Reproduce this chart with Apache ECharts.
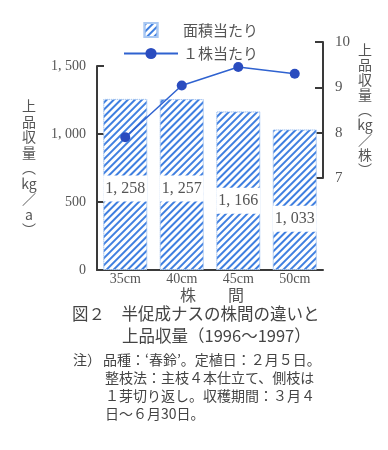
<!DOCTYPE html>
<html><head><meta charset="utf-8">
<script src="https://cdn.jsdelivr.net/npm/echarts@6/dist/echarts.min.js"></script>
<style>html,body{margin:0;padding:0;background:#fff}#c{width:388px;height:450px}</style>
</head><body><div id="c"></div>
<script>
// ---- data ----
const categories = ['35cm', '40cm', '45cm', '50cm'];
const yieldPerArea = [1258, 1257, 1166, 1033];      // kg/a (bars)
const yieldPerPlant = [7.9, 9.04, 9.45, 9.3];       // kg/株 (line)
const leftTicks = [0, 500, 1000, 1500];
const rightTicks = [7, 8, 9, 10];
const seriesNames = ['面積当たり', '１株当たり'];
const leftAxisName = ['上', '品', '収', '量', '︵', 'kg', '／', 'a', '︶'];
const rightAxisName = ['上', '品', '収', '量', '︵', 'kg', '／', '株', '︶'];
const xAxisName = '株\u3000\u3000間';
const titleLines = ['図２\u3000半促成ナスの株間の違いと', '上品収量（1996～1997）'];
const noteHead = '注）';
const noteLines = ['品種：‘春鈴’。定植日：２月５日。', '整枝法：主枝４本仕立て、側枝は', '１芽切り返し。収穫期間：３月４', '日～６月30日。'];

// ---- style ----
const CJK = '"Noto Sans CJK JP", sans-serif';
const SERIF = '"Liberation Serif", "DejaVu Serif", serif';
const GRAY = '#555';
const AXIS = '#3a3a3a';
const HATCH = '#3f7fe0';
const labelShift = [4, 4, 10, 19];

const fmt = v => v >= 1000 ? Math.floor(v / 1000) + ', ' + String(v % 1000).padStart(3, '0') : String(v);

const chart = echarts.init(document.getElementById('c'), null, {renderer: 'canvas'});
chart.setOption({
  animation: false,
  backgroundColor: '#fff',
  legend: {
    orient: 'vertical', left: 118, top: 17, itemWidth: 54, itemHeight: 14, itemGap: 8,
    textStyle: {fontFamily: CJK, fontSize: 15, color: GRAY, padding: [0, 0, 0, 0]},
    data: [
      {name: seriesNames[0], icon: 'path://M0 0H12V13H0Z'},
      {name: seriesNames[1]}
    ]
  },
  grid: [
    {left: 97, right: 65, top: 66, height: 204},
    {left: 97, right: 65, top: 42, height: 136}
  ],
  xAxis: [
    {type: 'category', gridIndex: 0, data: categories,
     axisLine: {lineStyle: {color: AXIS, width: 2}}, axisTick: {show: false},
     axisLabel: {fontFamily: SERIF, fontSize: 14, color: GRAY, margin: 2},
     name: xAxisName, nameLocation: 'middle', nameGap: 16,
     nameTextStyle: {fontFamily: CJK, fontSize: 16, color: GRAY, padding: [0, 0, 0, 4]}},
    {type: 'category', gridIndex: 1, data: categories, show: false}
  ],
  yAxis: [
    {type: 'value', gridIndex: 0, min: leftTicks[0], max: leftTicks[leftTicks.length - 1], interval: 500,
     axisLine: {show: true, lineStyle: {color: AXIS, width: 2}},
     axisTick: {show: true, inside: true, length: 7, lineStyle: {color: AXIS, width: 2}},
     splitLine: {show: false},
     axisLabel: {fontFamily: SERIF, fontSize: 14, color: GRAY, margin: 11, formatter: fmt},
     name: leftAxisName.join('\n'), nameLocation: 'middle', nameRotate: 0, nameGap: 68,
     nameTextStyle: {fontFamily: CJK, fontSize: 14, lineHeight: 15.5, color: GRAY, align: 'center', verticalAlign: 'middle'}},
    {type: 'value', gridIndex: 1, position: 'right', min: rightTicks[0], max: rightTicks[rightTicks.length - 1], interval: 1,
     axisLine: {show: true, lineStyle: {color: AXIS, width: 2}},
     axisTick: {show: true, inside: true, length: 8, lineStyle: {color: AXIS, width: 2}},
     splitLine: {show: false},
     axisLabel: {fontFamily: SERIF, fontSize: 15, color: GRAY, margin: 12},
     name: rightAxisName.join('\n'), nameLocation: 'middle', nameRotate: 0, nameGap: 42,
     nameTextStyle: {fontFamily: CJK, fontSize: 14, lineHeight: 15, color: GRAY, align: 'center', verticalAlign: 'middle'}}
  ],
  series: [
    {name: seriesNames[0], type: 'bar', xAxisIndex: 0, yAxisIndex: 0, barWidth: 44,
     itemStyle: {color: '#fff', borderColor: '#a9c8f2', borderWidth: 1, borderType: 'dotted',
       decal: {symbol: 'rect', symbolSize: 1, dashArrayX: [1, 0], dashArrayY: [1.5, 2.5], rotation: -Math.PI / 4, color: HATCH}},
     data: yieldPerArea.map((v, i) => ({value: v, label: {offset: [0, labelShift[i]]}})),
     label: {show: true, position: 'inside', formatter: p => fmt(p.value), fontFamily: SERIF, fontSize: 16, color: GRAY,
       backgroundColor: '#fff', width: 44, height: 26, lineHeight: 26, align: 'center', padding: 0}},
    {name: seriesNames[1], type: 'line', xAxisIndex: 1, yAxisIndex: 1, data: yieldPerPlant,
     symbol: 'circle', symbolSize: 10, lineStyle: {color: '#2f62d0', width: 1.5},
     itemStyle: {color: '#2a4cbf'}}
  ],
  graphic: [
    {type: 'text', left: 72, top: 305, style: {text: titleLines[0], font: '16.5px ' + CJK, fill: '#444'}},
    {type: 'text', left: 122, top: 327, style: {text: titleLines[1], font: '16.5px ' + CJK, fill: '#444'}},
    {type: 'text', left: 73, top: 353, style: {text: noteHead, font: '14px ' + CJK, fill: '#444'}},
    {type: 'text', left: 103, top: 353, style: {text: noteLines[0], font: '14px ' + CJK, fill: '#444'}},
    {type: 'text', left: 105, top: 371, style: {text: noteLines[1], font: '14px ' + CJK, fill: '#444'}},
    {type: 'text', left: 105, top: 389, style: {text: noteLines[2], font: '14px ' + CJK, fill: '#444'}},
    {type: 'text', left: 105, top: 407, style: {text: noteLines[3], font: '14px ' + CJK, fill: '#444'}}
  ]
});
</script></body></html>
